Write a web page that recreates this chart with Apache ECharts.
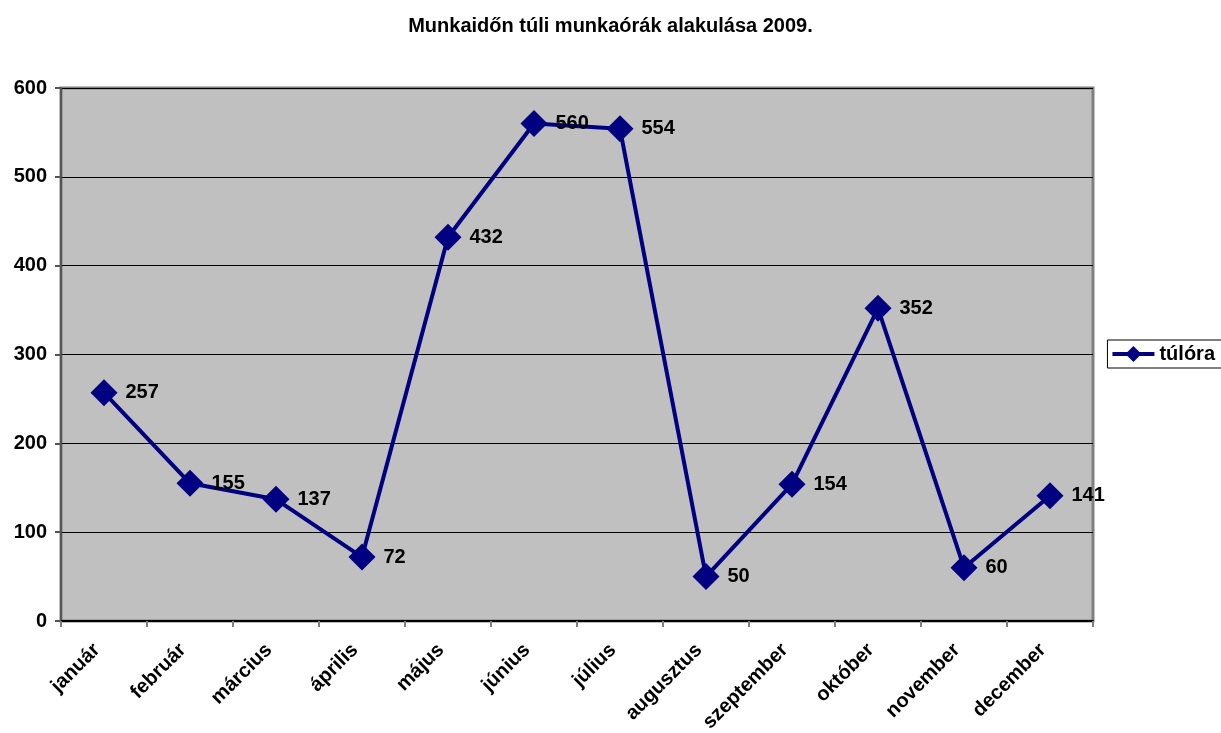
<!DOCTYPE html>
<html>
<head>
<meta charset="utf-8">
<script src="https://cdn.jsdelivr.net/npm/echarts@6/dist/echarts.min.js"></script>
<style>
  html, body { margin: 0; padding: 0; background: #fff; }
  #chart { width: 1221px; height: 733px; }
</style>
</head>
<body>
<div id="chart"></div>
<script>
const months = ['január', 'február', 'március', 'április', 'május', 'június',
  'július', 'augusztus', 'szeptember', 'október', 'november', 'december']
const overtime = [257, 155, 137, 72, 432, 560, 554, 50, 154, 352, 60, 141]
const yTicks = { min: 0, max: 600, interval: 100 }

const chart = echarts.init(document.getElementById('chart'))

chart.setOption({
  backgroundColor: '#fff',
  animation: false,
  textStyle: { fontFamily: 'Liberation Sans, Arial, sans-serif' },
  title: {
    text: 'Munkaidőn túli munkaórák alakulása 2009.',
    left: 'center',
    top: 11,
    textStyle: { fontSize: 20, fontWeight: 'bold', color: '#000' }
  },
  legend: {
    right: -2,
    top: 340,
    orient: 'vertical',
    data: ['túlóra'],
    itemWidth: 42,
    itemHeight: 20,
    itemGap: 4,
    borderColor: '#000',
    borderWidth: 1,
    padding: [4, 8, 4, 3],
    lineStyle: { width: 4 },
    textStyle: { fontSize: 20, fontWeight: 'bold', color: '#000' }
  },
  grid: {
    left: 61, right: 128, top: 88, bottom: 112,
    outerBoundsMode: 'none',
    show: true,
    backgroundColor: '#c0c0c0',
    borderColor: '#808080',
    borderWidth: 3
  },
  xAxis: {
    type: 'category',
    data: months,
    boundaryGap: true,
    axisLine: { lineStyle: { color: '#000', width: 2 } },
    axisTick: { show: true, length: 6, lineStyle: { color: '#808080', width: 2 } },
    axisLabel: {
      rotate: 45,
      interval: 0,
      margin: 33,
      verticalAlign: 'bottom',
      fontSize: 20,
      fontWeight: 'bold',
      color: '#000'
    }
  },
  yAxis: {
    type: 'value',
    min: yTicks.min,
    max: yTicks.max,
    interval: yTicks.interval,
    axisLine: { show: true, lineStyle: { color: '#555', width: 2 } },
    axisTick: { show: true, length: 6, lineStyle: { color: '#555', width: 2 } },
    splitLine: { lineStyle: { color: '#000', width: 1 } },
    axisLabel: { fontSize: 20, fontWeight: 'bold', color: '#000', margin: 14 }
  },
  series: [{
    name: 'túlóra',
    type: 'line',
    data: overtime,
    symbol: 'diamond',
    symbolSize: 27,
    lineStyle: { color: '#000080', width: 4 },
    itemStyle: { color: '#000080' },
    label: {
      show: true,
      position: 'right',
      distance: 8,
      fontSize: 20,
      fontWeight: 'bold',
      color: '#000'
    }
  }]
})
</script>
</body>
</html>
